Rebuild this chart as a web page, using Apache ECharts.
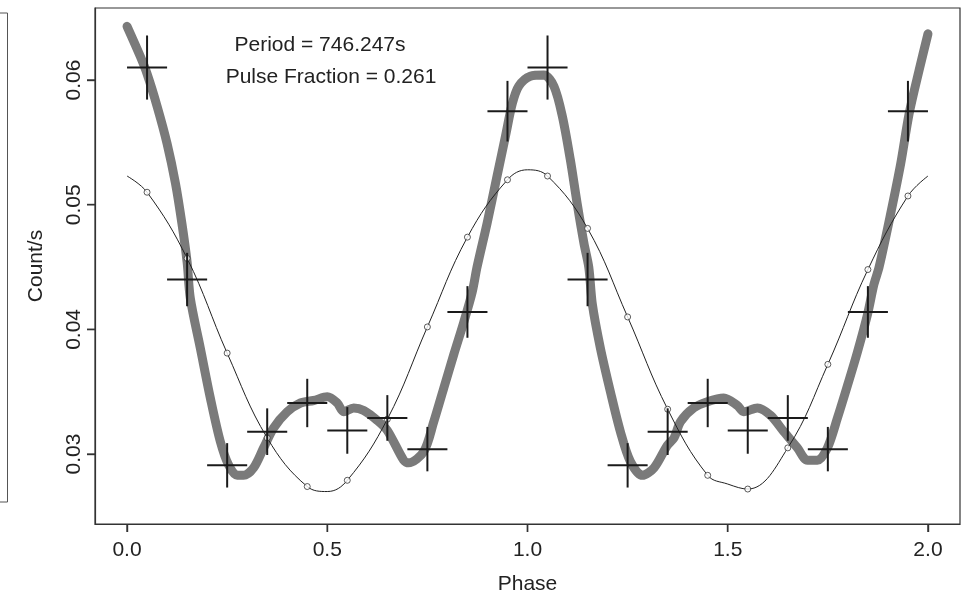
<!DOCTYPE html>
<html>
<head>
<meta charset="utf-8">
<script src="https://cdn.jsdelivr.net/npm/echarts@6/dist/echarts.min.js"></script>
<style>
html,body{margin:0;padding:0;background:#fff;}
#chart{width:967px;height:595px;}
</style>
</head>
<body>
<div id="chart"></div>
<script>
// ---- Data ----
// Binned light curve (crosses): phase, count rate, 1-sigma error
const dataPhase = [0.05,0.15,0.25,0.35,0.45,0.55,0.65,0.75,0.85,0.95,1.05,1.15,1.25,1.35,1.45,1.55,1.65,1.75,1.85,1.95];
const dataRate  = [0.0610,0.0440,0.0291,0.0318,0.0341,0.0319,0.0329,0.0304,0.0414,0.0575,0.0610,0.0440,0.0291,0.0318,0.0341,0.0319,0.0329,0.0304,0.0414,0.0575];
const dataErr   = [0.00257,0.00214,0.00178,0.00187,0.00194,0.00187,0.00183,0.00178,0.00207,0.00243,0.00257,0.00214,0.00178,0.00187,0.00194,0.00187,0.00183,0.00178,0.00207,0.00243];
const binHalfWidth = 0.05;

// Sinusoidal fit (thin line) sampled at the circle markers
const fitPhase = [0.05,0.15,0.25,0.35,0.45,0.55,0.65,0.75,0.85,0.95,1.05,1.15,1.25,1.35,1.45,1.55,1.65,1.75,1.85,1.95];
const fitRate  = [0.0510,0.0457,0.0381,0.0313,0.0274,0.0279,0.0328,0.0402,0.0474,0.0520,0.0523,0.0481,0.0410,0.0336,0.0283,0.0272,0.0305,0.0372,0.0448,0.0507];
// extra readings of the thin line (ends and extrema), no markers
const fitExtraPhase = [0.0,0.5,1.0,1.5,2.0];
const fitExtraRate  = [0.0523,0.0270,0.0528,0.0276,0.0523];

// Smooth multi-harmonic profile (thick grey curve)
const profPhase = [0.0,0.033,0.05,0.075,0.1,0.121,0.137,0.15,0.158,0.183,0.208,0.233,0.254,0.275,0.291,0.316,0.341,0.366,0.4,0.433,0.466,0.5,0.525,0.541,0.566,0.591,0.625,0.65,0.691,0.703,0.741,0.766,0.791,0.816,0.841,0.862,0.874,0.899,0.924,0.945,0.962,0.978,1.007,1.041,1.066,1.087,1.107,1.124,1.141,1.153,1.162,1.182,1.207,1.232,1.257,1.287,1.316,1.349,1.366,1.382,1.415,1.449,1.49,1.524,1.54,1.574,1.607,1.64,1.674,1.699,1.724,1.749,1.774,1.799,1.824,1.849,1.865,1.878,1.907,1.932,1.953,1.978,2.0];
const profRate  = [0.0643,0.0619,0.0605,0.0579,0.0549,0.0517,0.0485,0.0454,0.0425,0.0385,0.0345,0.0310,0.0291,0.0283,0.0283,0.0289,0.0305,0.0321,0.0334,0.0341,0.0343,0.0346,0.0341,0.0334,0.0337,0.0335,0.0327,0.0319,0.0295,0.0293,0.0302,0.0326,0.0353,0.0380,0.0406,0.0430,0.0450,0.0485,0.0523,0.0555,0.0581,0.0595,0.0603,0.0604,0.0595,0.0571,0.0536,0.0501,0.0469,0.0450,0.0420,0.0385,0.0350,0.0318,0.0294,0.0283,0.0289,0.0307,0.0313,0.0326,0.0337,0.0342,0.0345,0.0339,0.0334,0.0337,0.0331,0.0318,0.0305,0.0295,0.0295,0.0305,0.0329,0.0355,0.0382,0.0412,0.0436,0.0450,0.0493,0.0533,0.0573,0.0608,0.0637];

// Axis ticks and ranges
const xTicks = [0.0,0.5,1.0,1.5,2.0];
const yTicks = [0.03,0.04,0.05,0.06];
const xMin = -0.08, xMax = 2.08;
const yMin = 0.024396, yMax = 0.065774;
const xTitle = 'Phase';
const yTitle = 'Count/s';
const note1 = 'Period = 746.247s';
const note2 = 'Pulse Fraction = 0.261';

// ---- Build series data ----
const profData = profPhase.map((p,i)=>[p,profRate[i]]);
const fitLine = fitPhase.map((p,i)=>[p,fitRate[i]])
  .concat(fitExtraPhase.map((p,i)=>[p,fitExtraRate[i]]))
  .sort((a,b)=>a[0]-b[0]);
const fitMarks = fitPhase.map((p,i)=>[p,fitRate[i]]);
const crossData = dataPhase.map((p,i)=>[p,dataRate[i],dataErr[i]]);

const FONT = 'Liberation Sans, Arial, Helvetica, sans-serif';
const AX = '#333333';
const FS = 21;
const TICK_LEN = 8;
const tickStyle = {stroke:AX,lineWidth:1.4};

const chart = echarts.init(document.getElementById('chart'), null, {renderer:'canvas'});
chart.setOption({
  animation:false,
  backgroundColor:'#ffffff',
  grid:{left:95,right:7,top:8,bottom:71,show:true,borderColor:AX,borderWidth:1.2,outerBoundsMode:'none',containLabel:false},
  xAxis:{
    type:'value',min:xMin,max:xMax,
    name:xTitle,nameLocation:'middle',nameGap:50,
    nameTextStyle:{fontFamily:FONT,fontSize:FS,color:'#222'},
    splitLine:{show:false},
    axisLine:{show:true,onZero:false,lineStyle:{color:AX,width:1.2}},
    axisTick:{show:true,customValues:xTicks,length:TICK_LEN,lineStyle:{color:AX,width:1.4}},
    axisLabel:{customValues:xTicks,fontFamily:FONT,fontSize:FS,color:'#222',margin:16,formatter:v=>v.toFixed(1)}
  },
  yAxis:{
    type:'value',min:yMin,max:yMax,
    name:yTitle,nameLocation:'middle',nameGap:48,nameRotate:90,
    nameTextStyle:{fontFamily:FONT,fontSize:FS,color:'#222'},
    splitLine:{show:false},
    axisLine:{show:true,onZero:false,lineStyle:{color:AX,width:1.2}},
    axisTick:{show:true,customValues:yTicks,length:TICK_LEN,lineStyle:{color:AX,width:1.4}},
    axisLabel:{customValues:yTicks,rotate:90,align:'center',verticalAlign:'bottom',fontFamily:FONT,fontSize:FS,color:'#222',margin:10,formatter:v=>v.toFixed(2)}
  },
  graphic:[
    {type:'polyline',shape:{points:[[0,13],[7.5,13],[7.5,502],[0,502]]},style:{stroke:'#555',lineWidth:1,fill:null},silent:true},
    {type:'text',style:{text:note1,font:FS+'px '+FONT,fill:'#222',x:320,y:45,align:'center',verticalAlign:'middle'},silent:true},
    {type:'text',style:{text:note2,font:FS+'px '+FONT,fill:'#222',x:331,y:77,align:'center',verticalAlign:'middle'},silent:true}
  ],
  series:[
    {type:'line',data:profData,smooth:0.3,showSymbol:false,
     lineStyle:{color:'#7a7a7a',width:9,cap:'round',join:'round'},z:1},
    {type:'line',data:fitLine,smooth:0.4,showSymbol:false,
     lineStyle:{color:'#222',width:1},z:2},
    {type:'scatter',data:fitMarks,symbol:'circle',symbolSize:6,
     itemStyle:{color:'#ffffff',borderColor:'#333',borderWidth:1},z:3},
    {type:'custom',data:crossData,z:4,
     renderItem:function(params,api){
       const x=api.value(0), y=api.value(1), e=api.value(2);
       const l=api.coord([x-binHalfWidth,y]), r=api.coord([x+binHalfWidth,y]);
       const t=api.coord([x,y+e]), b=api.coord([x,y-e]);
       const st={stroke:'#1a1a1a',lineWidth:2};
       return {type:'group',children:[
         {type:'line',shape:{x1:l[0],y1:l[1],x2:r[0],y2:r[1]},style:st},
         {type:'line',shape:{x1:t[0],y1:t[1],x2:b[0],y2:b[1]},style:st}
       ]};
     }},
    // outward tick marks on the box edges, placed by the axes' own scales
    {type:'custom',clip:false,silent:true,z:5,data:xTicks.map(v=>[v,yMin]),
     renderItem:function(params,api){
       const p=api.coord([api.value(0),api.value(1)]);
       return {type:'line',shape:{x1:p[0],y1:p[1],x2:p[0],y2:p[1]+TICK_LEN},style:tickStyle};
     }},
    {type:'custom',clip:false,silent:true,z:5,data:yTicks.map(v=>[xMin,v]),
     renderItem:function(params,api){
       const p=api.coord([api.value(0),api.value(1)]);
       return {type:'line',shape:{x1:p[0],y1:p[1],x2:p[0]-TICK_LEN,y2:p[1]},style:tickStyle};
     }}
  ]
});
</script>
</body>
</html>
